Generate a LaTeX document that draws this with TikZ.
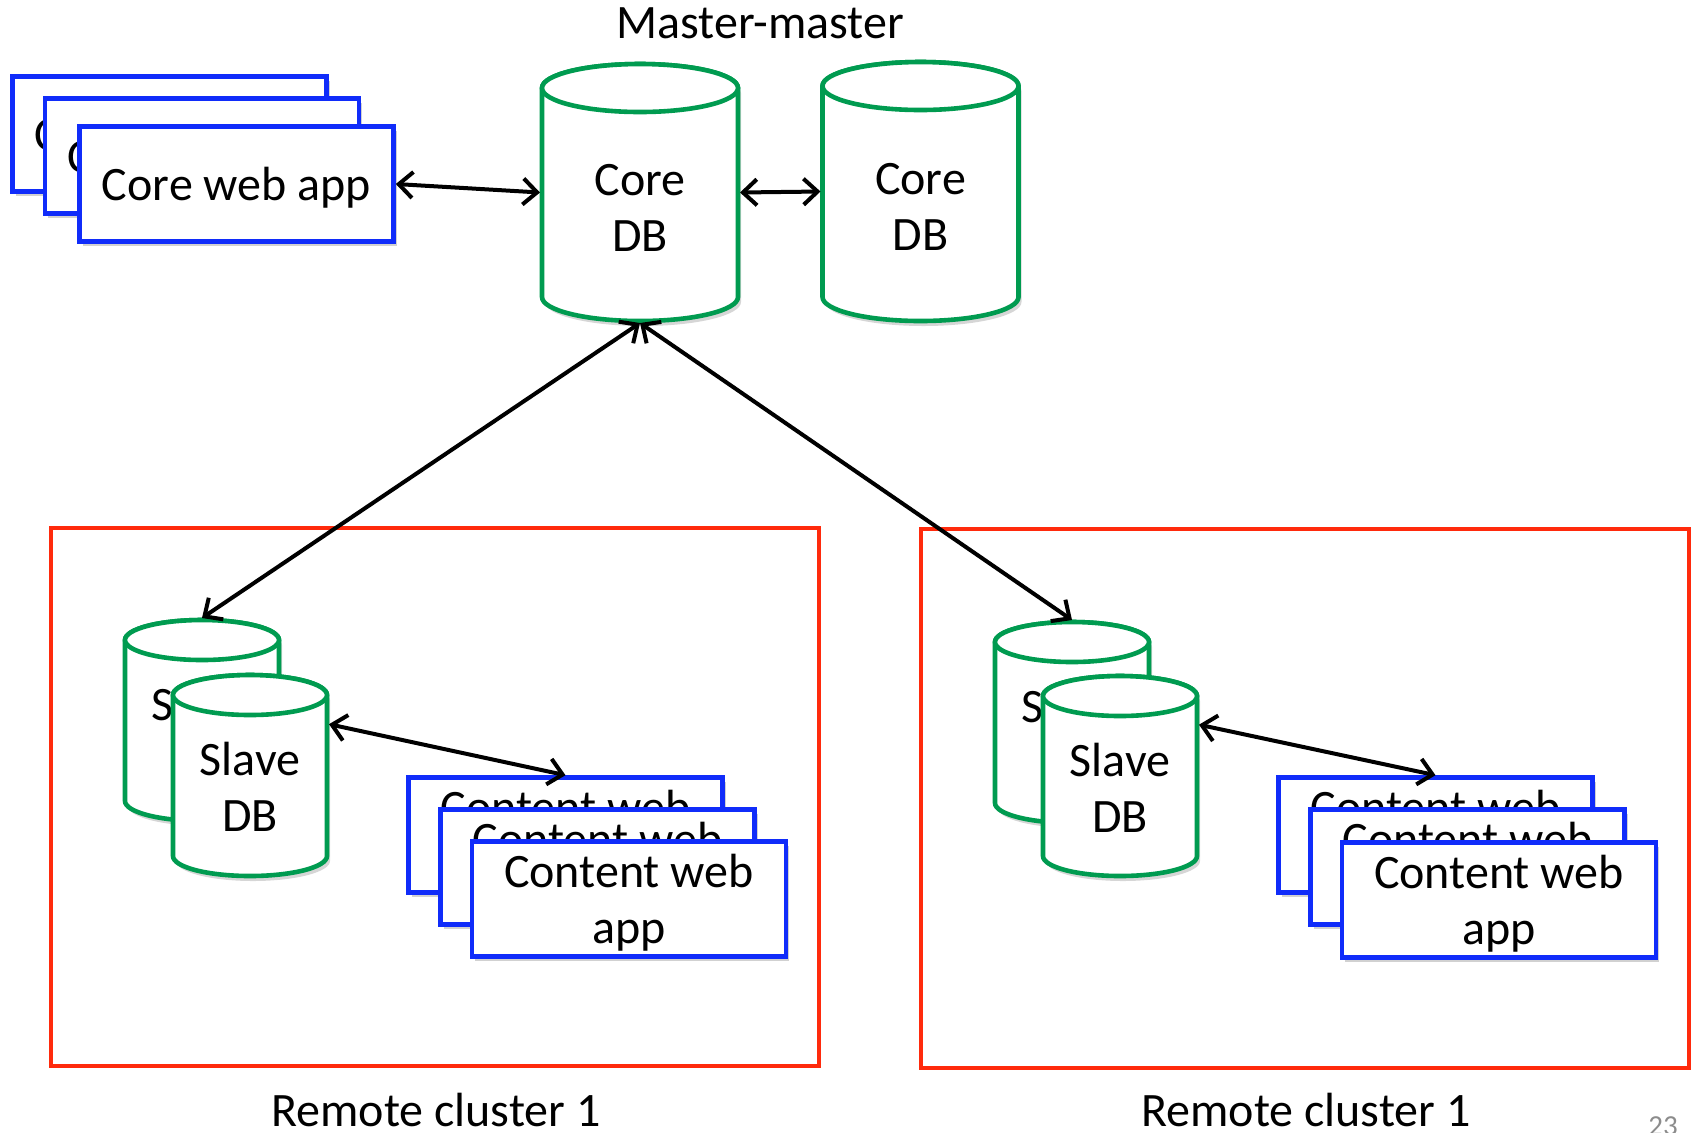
\documentclass[tikz,border=0pt]{standalone}
\usepackage{fontspec}
\setmainfont{Carlito}
\usetikzlibrary{arrows.meta,shadows,calc}
\definecolor{boxblue}{RGB}{16,44,250}
\definecolor{dbgreen}{RGB}{0,155,80}
\definecolor{framered}{RGB}{255,42,12}
\tikzset{
  lbl/.style={font=\fontsize{24}{28}\selectfont, inner sep=0pt},
  appbox/.style={draw=boxblue, line width=2.3pt, fill=white, minimum width=157pt,
    minimum height=57.5pt, inner sep=0pt, align=center, text depth=0pt,
    font=\fontsize{24}{28}\selectfont,
    drop shadow={shadow xshift=1.5pt, shadow yshift=-2pt, opacity=0.18, fill=black}},
  clusterframe/.style={draw=framered, line width=2.3pt, inner sep=0pt},
  dbline/.style={draw=dbgreen, line width=2.3pt, fill=white},
  dbnode/.style={inner sep=0pt, outer sep=0pt},
  biarrow/.style={line width=2pt, {Straight Barb[length=7pt,width=13pt]}-{Straight Barb[length=7pt,width=13pt]}},
}
% name, cx, top, bottom, half width, ry, text y, text
\newcommand\dbcyl[8]{%
  \pgfmathsetmacro\cylw{(2*#5+4)*0.5}%
  \pgfmathsetmacro\cylh{(#4-#3+4)*0.5}%
  \fill[black, opacity=0.16, xshift=1.5pt, yshift=-2.5pt]
    ({#2-#5},{-(#3+#6)}) -- ({#2-#5},{-(#4-#6)})
    arc[start angle=180, end angle=360, x radius=#5, y radius=#6]
    -- ({#2+#5},{-(#3+#6)})
    arc[start angle=0, end angle=180, x radius=#5, y radius=#6] -- cycle;
  \filldraw[dbline]
    ({#2-#5},{-(#3+#6)}) -- ({#2-#5},{-(#4-#6)})
    arc[start angle=180, end angle=360, x radius=#5, y radius=#6]
    -- ({#2+#5},{-(#3+#6)})
    arc[start angle=0, end angle=180, x radius=#5, y radius=#6] -- cycle;
  \draw[dbline] (#2,{-(#3+#6)}) ellipse[x radius=#5, y radius=#6];
  \node[dbnode, minimum width=\cylw pt, minimum height=\cylh pt] (#1) at (#2,{-(#3+#4)/2}) {};
  \node[lbl, align=center] (#1-t) at (#2,-#7) {#8};
}
\begin{document}
\begin{tikzpicture}[x=0.5pt, y=0.5pt]
\useasboundingbox (0,0) rectangle (1698,-1132);

% title
\node[lbl, anchor=base] (mm) at (760,-38) {Master-master};

% core web app stack
\node[appbox] (cwa1) at (169.5,-134) {Core web app};
\node[appbox] (cwa2) at (202,-156) {Core web app};
\node[appbox] (cwa3) at (236.5,-184) {Core web app};

% core DBs
\dbcyl{coreA}{640}{64}{321}{98}{24}{208}{Core\\DB}
\dbcyl{coreB}{920.5}{62}{321}{98}{24}{207}{Core\\DB}

% cluster frames
\node[clusterframe, minimum width=384pt, minimum height=269pt] (clL) at (435,-797) {};
\node[clusterframe, minimum width=384pt, minimum height=269.5pt] (clR) at (1305,-798.5) {};

% left cluster
\dbcyl{slaveLb}{202}{620}{821}{77}{20}{732}{Slave\\DB}
\dbcyl{slaveLf}{250}{675}{876}{77}{20}{787}{Slave\\DB}
\node[appbox] (cwL1) at (565.5,-835) {Content web\\app};
\node[appbox] (cwL2) at (597.5,-867) {Content web\\app};
\node[appbox] (cwL3) at (629,-899) {Content web\\app};

% right cluster
\dbcyl{slaveRb}{1072}{622}{823}{77}{20}{734}{Slave\\DB}
\dbcyl{slaveRf}{1120}{676}{876}{77}{20}{788}{Slave\\DB}
\node[appbox] (cwR1) at (1435.5,-835) {Content web\\app};
\node[appbox] (cwR2) at (1467.5,-867) {Content web\\app};
\node[appbox] (cwR3) at (1499,-900) {Content web\\app};

% connectors
\draw[biarrow] (cwa3.east) -- (coreA.west);
\draw[biarrow] (coreA.east) -- (coreB.west);
\draw[biarrow] (coreA.south) -- (slaveLb.north);
\draw[biarrow] (coreA.south) -- (slaveRb.north);
\draw[biarrow] (slaveLf.33) -- (cwL1.north);
\draw[biarrow] (slaveRf.33) -- (cwR1.north);

% labels
\node[lbl, anchor=base] (rcL) at (436,-1126) {Remote cluster 1};
\node[lbl, anchor=base] (rcR) at (1306,-1126) {Remote cluster 1};
\node[inner sep=0pt, anchor=base west, text=black!45, font=\fontsize{14.5}{17}\selectfont] (pg) at (1648,-1135) {23};
\end{tikzpicture}
\end{document}
